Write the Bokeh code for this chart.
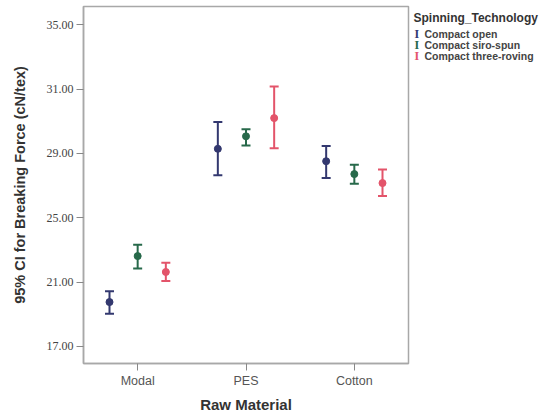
from bokeh.plotting import figure
from bokeh.models import ColumnDataSource, FactorRange, Range1d, FixedTicker, Label
from bokeh.layouts import row
from bokeh.transform import dodge
from bokeh.embed import file_html
from bokeh.resources import INLINE

materials = ["Modal", "PES", "Cotton"]
technologies = ["Compact open", "Compact siro-spun", "Compact three-roving"]
colors = ["#33386f", "#27694a", "#e3546a"]

open_mean = [19.76, 29.29, 28.52]
open_lo = [19.04, 27.65, 27.48]
open_hi = [20.43, 30.95, 29.47]

siro_mean = [22.62, 30.07, 27.72]
siro_lo = [21.84, 29.50, 27.12]
siro_hi = [23.33, 30.50, 28.30]

three_mean = [21.63, 31.20, 27.16]
three_lo = [21.07, 29.33, 26.35]
three_hi = [22.21, 33.16, 28.01]

y_ticks = [17, 21, 25, 29, 33, 37]
y_tick_labels = ["17.00", "21.00", "25.00", "29.00", "31.00", "35.00"]

p = figure(width=410, height=419, x_range=FactorRange(*materials),
           y_range=Range1d(15.94, 38.14), output_backend="svg",
           toolbar_location=None, min_border_left=83, min_border_right=2,
           min_border_top=6, min_border_bottom=56)
p.xgrid.visible = False
p.ygrid.visible = False
p.outline_line_color = "#a8a8a8"
p.outline_line_width = 1.5

series = [(open_mean, open_lo, open_hi), (siro_mean, siro_lo, siro_hi),
          (three_mean, three_lo, three_hi)]
offsets = [-0.26, 0.0, 0.26]
for (m, lo, hi), c, off in zip(series, colors, offsets):
    src = ColumnDataSource(dict(cat=materials, mean=m, lo=lo, hi=hi))
    xd = dodge("cat", off, range=p.x_range)
    p.segment(x0=xd, y0="lo", x1=xd, y1="hi", source=src, line_color=c, line_width=2)
    p.scatter(x=xd, y="lo", marker="dash", size=9, line_color=c, line_width=2, source=src)
    p.scatter(x=xd, y="hi", marker="dash", size=9, line_color=c, line_width=2, source=src)
    p.scatter(x=xd, y="mean", marker="circle", size=7, fill_color=c, line_color=c, source=src)

p.yaxis.ticker = FixedTicker(ticks=y_ticks)
p.yaxis.major_label_overrides = {t: l for t, l in zip(y_ticks, y_tick_labels)}
p.yaxis.minor_tick_line_color = None
p.yaxis.major_tick_out = 7
p.yaxis.major_tick_in = 0
p.yaxis.major_label_text_font = "Liberation Serif"
p.yaxis.major_label_text_font_size = "12px"
p.yaxis.major_label_text_color = "#444444"
p.yaxis.major_label_standoff = 3
p.yaxis.axis_label = "95% CI for Breaking Force (cN/tex)"
p.yaxis.axis_label_text_font = "Liberation Sans"
p.yaxis.axis_label_text_font_style = "bold"
p.yaxis.axis_label_text_font_size = "14.5px"
p.yaxis.axis_label_text_color = "#333333"
p.yaxis.axis_label_standoff = 16

p.xaxis.major_tick_out = 7
p.xaxis.major_tick_in = 0
p.xaxis.major_label_text_font = "Liberation Sans"
p.xaxis.major_label_text_font_size = "12.5px"
p.xaxis.major_label_text_color = "#555555"
p.xaxis.major_label_standoff = 3
p.xaxis.axis_label = "Raw Material"
p.xaxis.axis_label_text_font = "Liberation Sans"
p.xaxis.axis_label_text_font_style = "bold"
p.xaxis.axis_label_text_font_size = "15px"
p.xaxis.axis_label_text_color = "#333333"
p.xaxis.axis_label_standoff = 5

for ax in (p.xaxis, p.yaxis):
    ax.axis_line_color = "#a8a8a8"
    ax.axis_line_width = 1.5
    ax.major_tick_line_color = "#888888"

# legend panel to the right; its frame is aligned with the main frame
# (screen units: pixels right of / above the frame's bottom-left corner)
lg = figure(width=129, height=419, x_range=Range1d(0, 1), y_range=Range1d(0, 1),
            output_backend="svg", toolbar_location=None,
            x_axis_location=None, y_axis_location=None,
            min_border_left=0, min_border_right=0, min_border_top=6, min_border_bottom=56)
lg.xgrid.visible = False
lg.ygrid.visible = False
lg.outline_line_color = None

lg.add_layout(Label(x=3, y=346, x_units="screen", y_units="screen",
                    text="Spinning_Technology", text_font="Liberation Sans",
                    text_font_style="bold", text_font_size="12px",
                    text_color="#333333", text_baseline="middle"))
for i, (t, c) in enumerate(zip(technologies, colors)):
    yy = 330 - 11 * i
    lg.add_layout(Label(x=4, y=yy, x_units="screen", y_units="screen",
                        text="I", text_font="Liberation Serif", text_font_style="bold",
                        text_font_size="12px", text_color=c, text_baseline="middle"))
    lg.add_layout(Label(x=14, y=yy, x_units="screen", y_units="screen",
                        text=t, text_font="Liberation Sans", text_font_style="bold",
                        text_font_size="10.5px", text_color="#444444",
                        text_baseline="middle"))

layout = row(p, lg)
open("out.html", "w").write(file_html(layout, INLINE))
